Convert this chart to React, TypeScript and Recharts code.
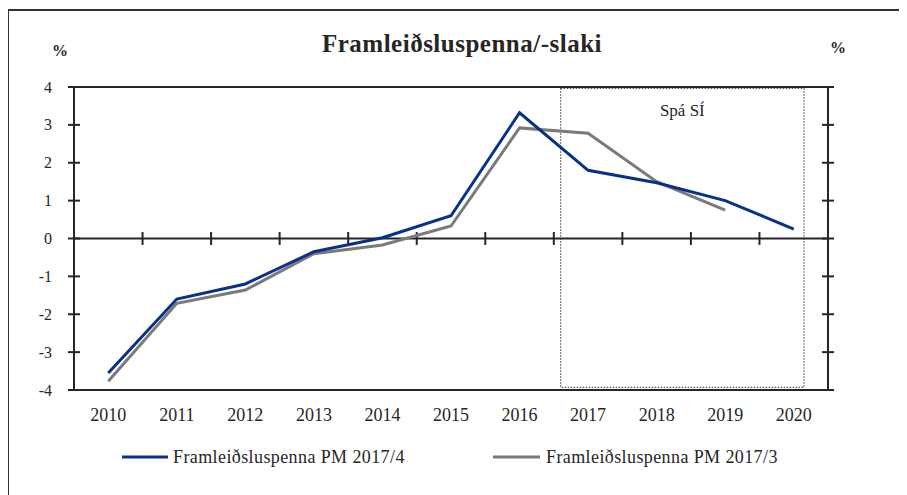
import React from 'react';
import {
  LineChart, Line, XAxis, YAxis, ReferenceLine, ReferenceArea,
} from 'recharts';

const years = [2010, 2011, 2012, 2013, 2014, 2015, 2016, 2017, 2018, 2019, 2020];
const pm2017_4 = [-3.55, -1.6, -1.2, -0.35, 0.02, 0.6, 3.32, 1.8, 1.47, 1.0, 0.25];
const pm2017_3 = [-3.77, -1.71, -1.36, -0.4, -0.17, 0.33, 2.92, 2.78, 1.5, 0.75, null];
const yTicks = [-4, -3, -2, -1, 0, 1, 2, 3, 4];
const seriesNames = ['Framleiðsluspenna PM 2017/4', 'Framleiðsluspenna PM 2017/3'];
const seriesColors = ['#083189', '#7a7a7a'];
const title = 'Framleiðsluspenna/-slaki';
const unitLabel = '%';
const forecastLabel = 'Spá SÍ';
const forecastRange = [2016.6, 2020.15];

const data = years.map((y, i) => ({ year: y, a: pm2017_4[i], b: pm2017_3[i] }));
const xMin = years[0] - 0.5;
const xMax = years[years.length - 1] + 0.5;
const boundaries = years.slice(0, -1).map((y) => y + 0.5);

const FONT = '"Liberation Serif", "Times New Roman", serif';
const INK = '#262626';
const W = 899;
const H = 487;
const TICK_HALF_X = 0.088; // ~6px in x units
const TICK_HALF_Y = 0.17; // ~6px in y units

const XTick = (props: any) => {
  const { x, y, payload } = props;
  return (
    <text x={x} y={y} textAnchor="middle" fontFamily={FONT} fontSize={18} fill={INK}>
      {payload.value}
    </text>
  );
};

const YTickLeft = (props: any) => {
  const { x, y, payload } = props;
  return (
    <text x={x} y={y} dy="0.35em" textAnchor="end" fontFamily={FONT} fontSize={16} fill={INK}>
      {payload.value}
    </text>
  );
};

const YTickRight = (props: any) => {
  const { x, y, payload } = props;
  return (
    <text x={x} y={y} dy="0.35em" textAnchor="start" fontFamily={FONT} fontSize={16} fill={INK}>
      {payload.value}
    </text>
  );
};

export default function App() {
  return (
    <div style={{ position: 'relative', width: W, height: H }}>
      <div
        style={{
          position: 'absolute', left: -1, top: 1, width: W + 20, height: H + 20,
          borderLeft: '2px solid #333', borderTop: '2px solid #333', boxSizing: 'border-box',
        }}
      />
      <LineChart
        width={W}
        height={H}
        data={data}
        margin={{ top: 79, right: 29, bottom: 65, left: 16 }}
      >
        <XAxis
          dataKey="year"
          type="number"
          domain={[xMin, xMax]}
          ticks={years}
          tick={<XTick />}
          tickLine={false}
          tickSize={0}
          tickMargin={31}
          height={40}
          axisLine={{ stroke: INK, strokeWidth: 2 }}
          interval={0}
        />
        <YAxis
          yAxisId="left"
          orientation="left"
          domain={[-4, 4]}
          ticks={yTicks}
          width={50}
          tickLine={false}
          tickMargin={16}
          tick={<YTickLeft />}
          axisLine={{ stroke: INK, strokeWidth: 2 }}
          interval={0}
        />
        <YAxis
          yAxisId="right"
          orientation="right"
          domain={[-4, 4]}
          ticks={yTicks}
          width={50}
          tickLine={false}
          tickMargin={17}
          tick={<YTickRight />}
          axisLine={{ stroke: INK, strokeWidth: 2 }}
          interval={0}
        />
        <ReferenceLine yAxisId="left" y={4} stroke={INK} strokeWidth={2} />
        <ReferenceArea
          yAxisId="left"
          x1={forecastRange[0]}
          x2={forecastRange[1]}
          y1={-3.93}
          y2={3.96}
          fill="none"
          fillOpacity={0}
          stroke="#555"
          strokeWidth={1.2}
          strokeDasharray="1.5 1.5"
          label={{
            value: forecastLabel,
            position: 'insideTop',
            offset: 15,
            fontFamily: FONT,
            fontSize: 17,
            fill: INK,
          }}
        />
        <ReferenceLine yAxisId="left" y={0} stroke={INK} strokeWidth={2} />
        {boundaries.map((b) => (
          <ReferenceLine
            key={`xb${b}`}
            yAxisId="left"
            segment={[{ x: b, y: TICK_HALF_Y }, { x: b, y: -TICK_HALF_Y }]}
            stroke={INK}
            strokeWidth={2}
          />
        ))}
        {yTicks.map((v) => (
          <ReferenceLine
            key={`yl${v}`}
            yAxisId="left"
            ifOverflow="visible"
            segment={[{ x: xMin - TICK_HALF_X, y: v }, { x: xMin + TICK_HALF_X, y: v }]}
            stroke={INK}
            strokeWidth={2}
          />
        ))}
        {yTicks.map((v) => (
          <ReferenceLine
            key={`yr${v}`}
            yAxisId="left"
            ifOverflow="visible"
            segment={[{ x: xMax - TICK_HALF_X, y: v }, { x: xMax + TICK_HALF_X, y: v }]}
            stroke={INK}
            strokeWidth={2}
          />
        ))}
        <Line
          yAxisId="left"
          type="linear"
          dataKey="b"
          name={seriesNames[1]}
          stroke={seriesColors[1]}
          strokeWidth={3}
          dot={false}
          isAnimationActive={false}
        />
        <Line
          yAxisId="left"
          type="linear"
          dataKey="a"
          name={seriesNames[0]}
          stroke={seriesColors[0]}
          strokeWidth={3}
          dot={false}
          isAnimationActive={false}
        />
      </LineChart>
      <svg
        width={W}
        height={H}
        style={{ position: 'absolute', left: 0, top: 0, pointerEvents: 'none' }}
      >
        <text x={454} y={44} textAnchor="middle" fontFamily={FONT} fontSize={25} fontWeight="bold" fill={INK} letterSpacing={0.5}>
          {title}
        </text>
        <text x={52} y={48} textAnchor="middle" fontFamily={FONT} fontSize={16} fontWeight="bold" fill={INK}>
          {unitLabel}
        </text>
        <text x={830} y={45} textAnchor="middle" fontFamily={FONT} fontSize={16} fontWeight="bold" fill={INK}>
          {unitLabel}
        </text>
        <line x1={114} x2={160} y1={449} y2={449} stroke={seriesColors[0]} strokeWidth={3} />
        <text x={165} y={455} fontFamily={FONT} fontSize={18} fill={INK} letterSpacing={0.4}>
          {seriesNames[0]}
        </text>
        <line x1={485} x2={532} y1={449} y2={449} stroke={seriesColors[1]} strokeWidth={3} />
        <text x={538} y={455} fontFamily={FONT} fontSize={18} fill={INK} letterSpacing={0.4}>
          {seriesNames[1]}
        </text>
      </svg>
    </div>
  );
}
